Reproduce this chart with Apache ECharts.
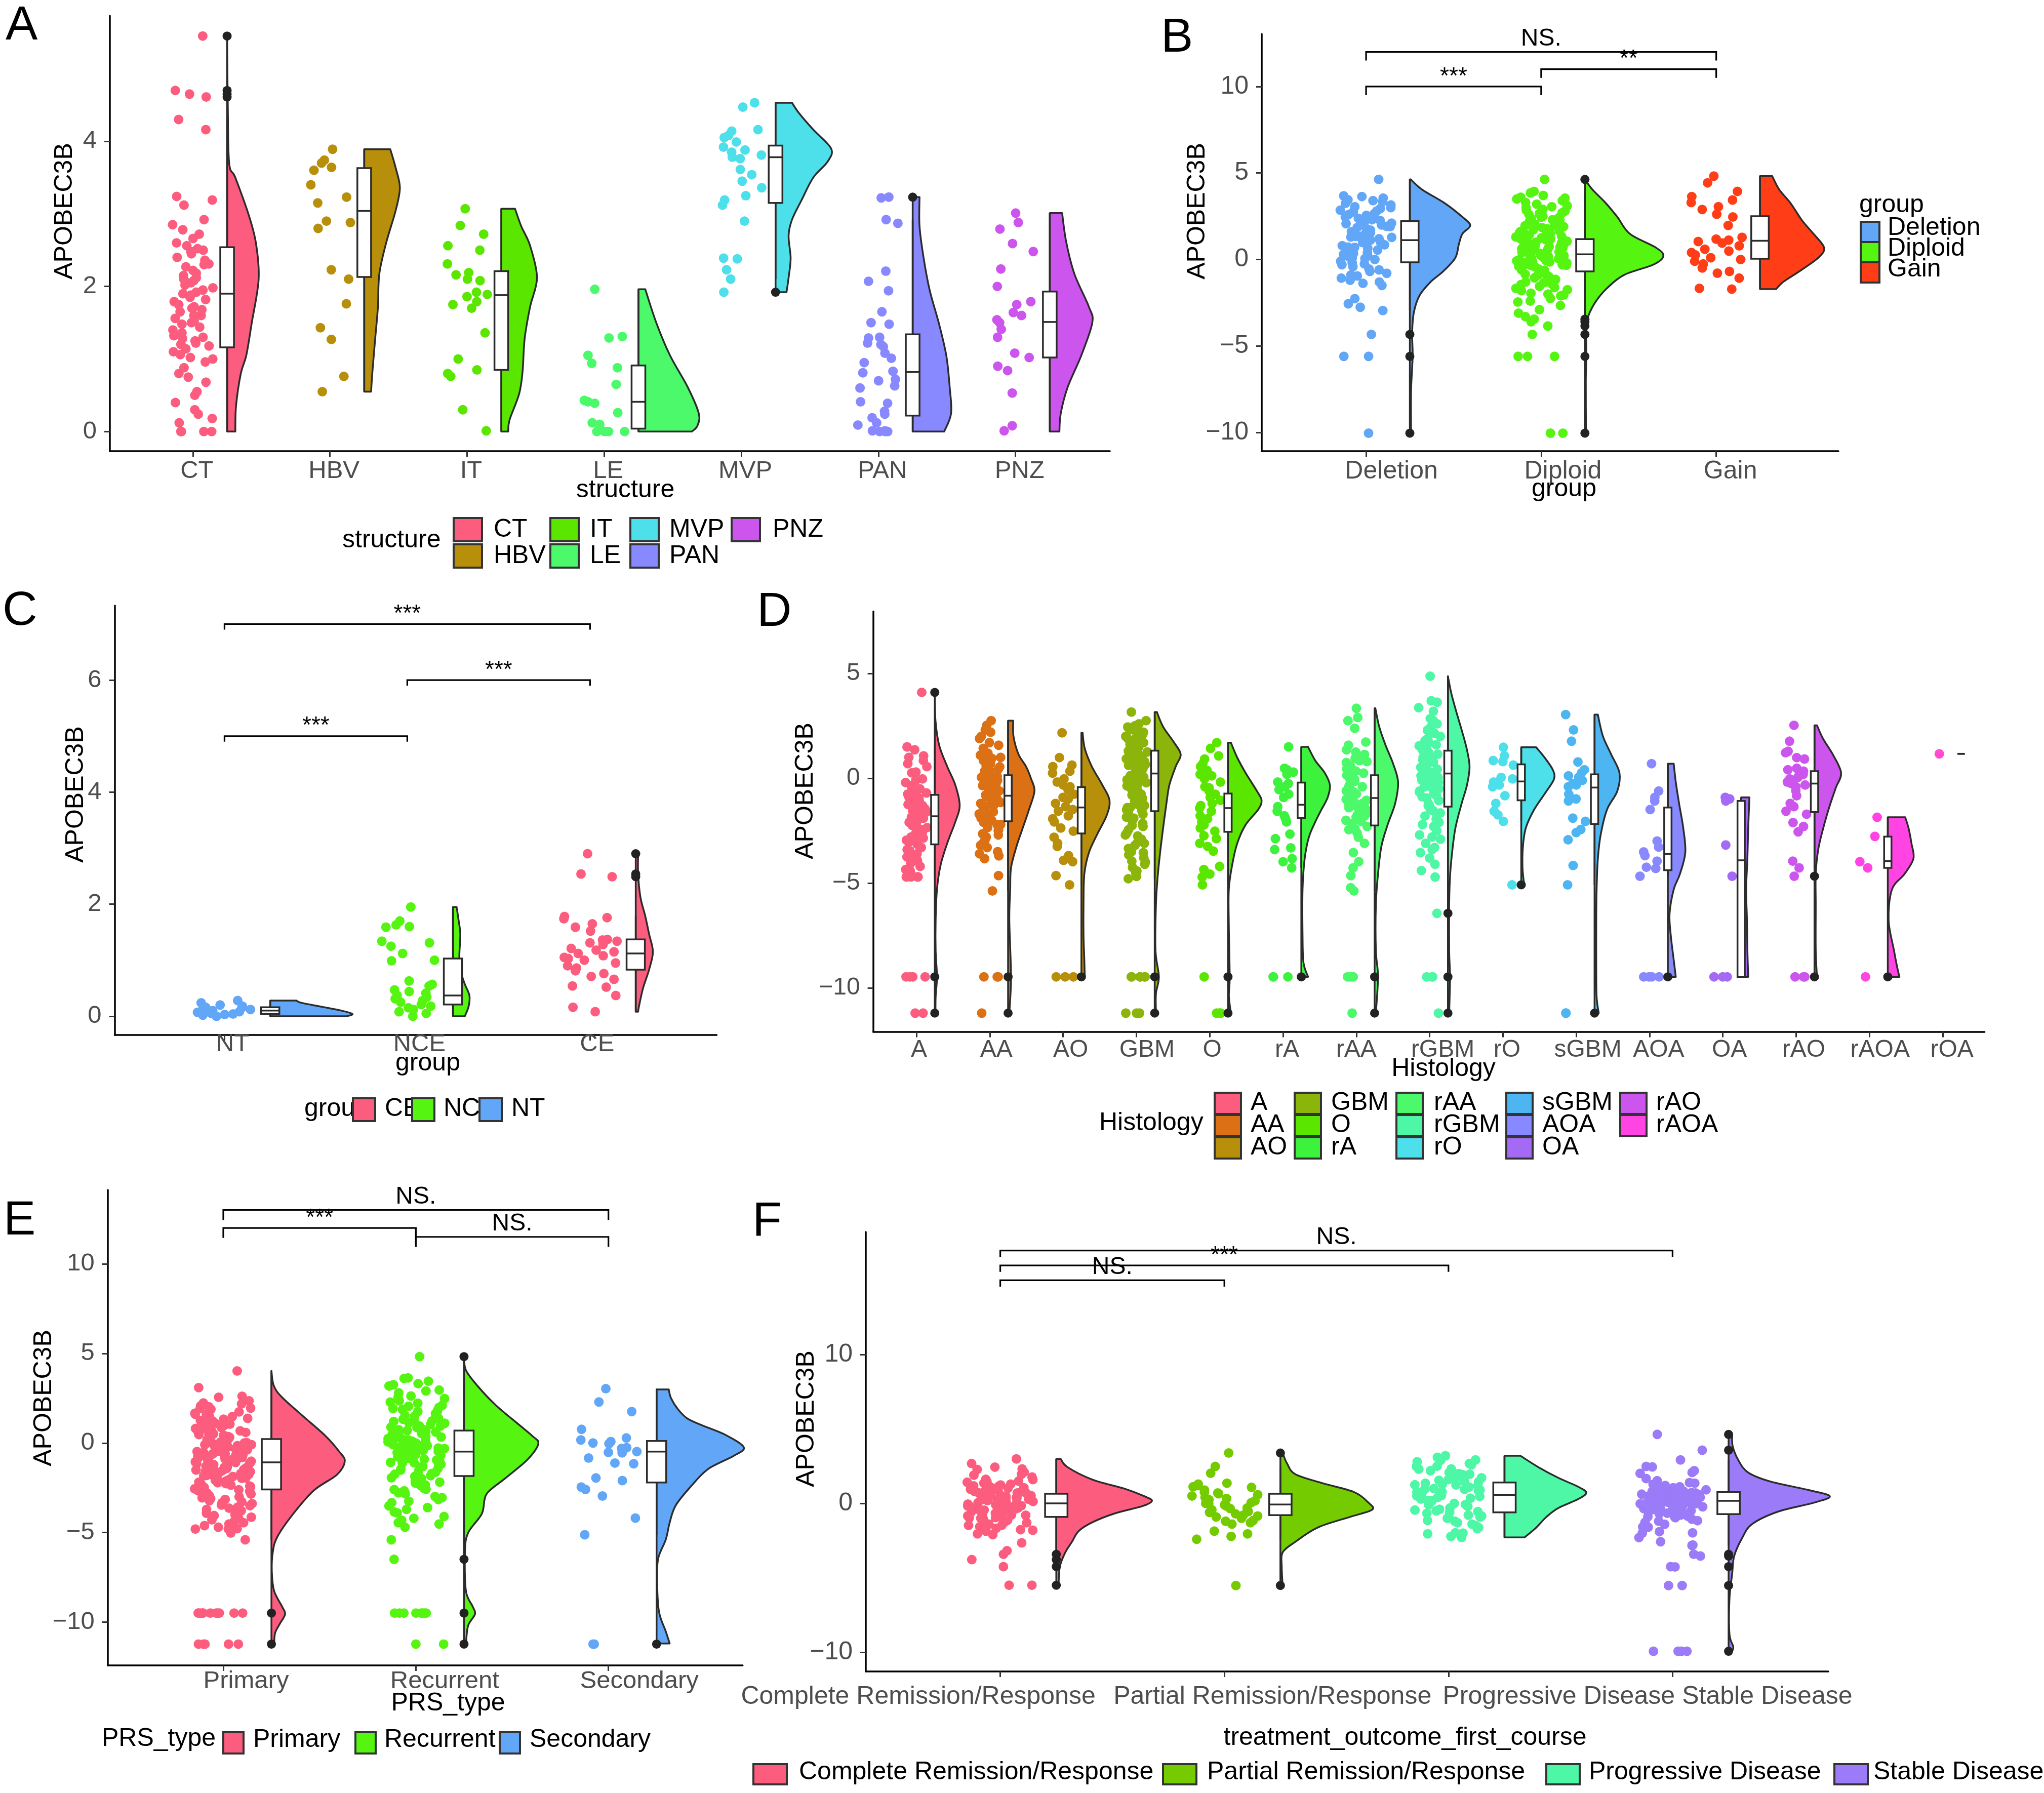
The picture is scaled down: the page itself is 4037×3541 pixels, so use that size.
<!DOCTYPE html>
<html><head><meta charset="utf-8">
<script src="https://cdn.jsdelivr.net/npm/echarts@6/dist/echarts.min.js"></script>
<style>html,body{margin:0;padding:0;background:#fff}#c{width:4037px;height:3541px}</style>
</head><body><div id="c"></div>
<script>
// ================= DATA =================
// ---- Panel A ----
const A_categories = ['CT','HBV','IT','LE','MVP','PAN','PNZ'];
const A_yticks = [0,2,4];
const A_points = [
  [5.45,4.70,4.65,4.61,4.30,4.16,3.24,3.19,3.12,2.92,2.85,2.78,2.72,2.66,2.60,2.56,2.52,2.48,2.45,2.40,2.36,2.31,2.27,2.22,2.18,2.15,2.12,2.08,2.05,2.02,1.98,1.95,1.92,1.88,1.85,1.82,1.79,1.75,1.72,1.68,1.65,1.60,1.56,1.52,1.48,1.44,1.40,1.36,1.32,1.28,1.25,1.22,1.18,1.14,1.10,1.06,1.02,0.96,0.88,0.80,0.75,0.68,0.55,0.50,0.40,0.30,0.24,0.18,0.12,0,0,0,0,2.3,2.1,1.9,1.7,1.5,1.3,1.2,2.5,1.6,1.0],
  [3.89,3.74,3.70,3.64,3.60,3.40,3.23,3.15,2.90,2.88,2.80,2.23,2.10,1.76,1.43,1.27,0.76,0.55],
  [3.07,2.84,2.72,2.56,2.50,2.31,2.19,2.16,2.10,2.08,1.92,1.89,1.86,1.79,1.75,1.70,1.36,1.00,0.85,0.80,0.76,0.30,0.01],
  [1.96,1.31,1.29,1.05,0.94,0.88,0.65,0.43,0.41,0.39,0.26,0.12,0.10,0,0,0,0],
  [4.53,4.47,4.16,4.14,4.08,4.05,3.99,3.92,3.88,3.85,3.81,3.78,3.76,3.61,3.54,3.45,3.36,3.25,3.19,3.12,2.90,2.39,2.38,2.23,2.10,1.92],
  [3.23,3.22,2.92,2.87,2.21,2.07,1.94,1.65,1.50,1.48,1.30,1.29,1.22,1.20,1.17,1.08,1.01,0.95,0.83,0.81,0.72,0.70,0.63,0.60,0.41,0.39,0.28,0.24,0.19,0.12,0.09,0.01,0.01,0,0,0],
  [3.01,2.88,2.79,2.59,2.48,2.24,2.00,1.79,1.75,1.64,1.60,1.54,1.50,1.41,1.30,1.08,1.02,0.90,0.84,0.53,0.08,0.01]
];
const A_boxes = [[0,1.16,1.90,2.54,4.30],[0.55,2.13,3.04,3.63,3.89],[0,0.85,1.88,2.21,3.07],[0,0.04,0.41,0.91,1.96],[2.10,3.15,3.78,3.94,4.53],[0,0.22,0.82,1.34,2.92],[0,1.02,1.51,1.93,3.01]];
const A_outliers = [[4.61,4.65,4.70,5.45],[],[],[],[1.92],[3.23],[]];
const A_violins = [
  [[0,0.06],[0.35,0.065],[0.8,0.1],[1.05,0.14],[1.5,0.18],[2.1,0.23],[2.6,0.21],[3.0,0.155],[3.5,0.06],[3.7,0.015],[4.5,0.005],[5.45,0]],
  [[0.55,0.05],[0.83,0.06],[1.28,0.08],[1.72,0.1],[2.17,0.11],[2.6,0.16],[3.05,0.23],[3.36,0.26],[3.63,0.23],[3.89,0.19]],
  [[0,0.05],[0.16,0.06],[0.52,0.13],[0.83,0.155],[1.28,0.17],[1.72,0.21],[2.12,0.26],[2.56,0.21],[2.83,0.145],[3.07,0.1]],
  [[0,0.39],[0.08,0.43],[0.25,0.44],[0.61,0.36],[1.05,0.23],[1.5,0.13],[1.96,0.05]],
  [[1.92,0.08],[2.12,0.095],[2.39,0.11],[2.7,0.095],[2.92,0.12],[3.19,0.19],[3.5,0.275],[3.72,0.38],[3.9,0.405],[4.16,0.275],[4.39,0.17],[4.53,0.12]],
  [[0,0.23],[0.25,0.28],[0.61,0.27],[1.05,0.245],[1.5,0.19],[1.94,0.125],[2.39,0.08],[2.83,0.05],[3.23,0.05]],
  [[0,0.07],[0.25,0.08],[0.61,0.13],[1.05,0.23],[1.5,0.31],[1.72,0.285],[2.17,0.18],[2.61,0.12],[3.01,0.09]]
];
const A_brackets = [];

// ---- Panel B ----
const B_categories = ['Deletion','Diploid','Gain'];
const B_yticks = [-10,-5,0,5,10];
const B_points = [
  [4.63,3.68,3.64,3.55,3.45,3.35,3.25,3.15,3.05,2.95,2.85,2.75,2.65,2.55,2.46,2.38,2.30,2.22,2.15,2.07,2.0,1.92,1.85,1.78,1.70,1.62,1.55,1.48,1.40,1.33,1.28,1.20,1.12,1.05,0.98,0.89,0.80,0.72,0.65,0.55,0.49,0.40,0.30,0.20,0.10,0.0,-0.10,-0.20,-0.30,-0.42,-0.55,-0.69,-0.80,-0.95,-1.08,-1.2,-1.38,-1.5,-2.26,-2.56,-2.76,-2.95,-4.33,-5.6,-5.6,-10.04,3.4,3.0,2.6,2.25,1.9,1.6,1.3,1.0,0.7,0.35,0.05,-0.25,-0.6,-0.9,-1.3,2.8,2.1,1.45,0.85,0.15],
  [4.63,3.94,3.85,3.70,3.60,3.50,3.40,3.30,3.20,3.10,3.00,2.90,2.80,2.70,2.60,2.50,2.42,2.35,2.28,2.20,2.12,2.05,1.98,1.90,1.84,1.78,1.72,1.66,1.60,1.55,1.50,1.45,1.40,1.35,1.30,1.25,1.20,1.15,1.10,1.05,1.00,0.96,0.92,0.88,0.84,0.80,0.76,0.72,0.68,0.64,0.60,0.56,0.52,0.48,0.44,0.40,0.36,0.32,0.28,0.24,0.20,0.16,0.12,0.08,0.04,0.0,-0.04,-0.08,-0.12,-0.16,-0.20,-0.25,-0.30,-0.35,-0.40,-0.45,-0.50,-0.56,-0.62,-0.69,-0.75,-0.82,-0.90,-0.98,-1.06,-1.15,-1.25,-1.35,-1.45,-1.55,-1.67,-1.80,-1.95,-2.10,-2.25,-2.46,-2.66,-2.9,-3.1,-3.3,-3.45,-3.6,-3.84,-4.33,-5.6,-5.6,-5.6,-10.04,-10.04,3.55,3.05,2.65,2.3,1.95,1.62,1.33,1.08,0.9,0.74,0.58,0.46,0.34,0.22,0.1,-0.02,-0.14,-0.27,-0.42,-0.6,-0.85,-1.1,-1.4,-1.75,-2.05,-2.4,2.85,2.45,1.7,1.18,0.62,0.26,-0.06,-0.33,-0.66,-1.0,-1.3,-1.62,-2.0,0.5],
  [4.82,4.43,3.94,3.64,3.44,3.29,3.05,2.89,2.62,2.46,1.97,1.28,1.18,1.12,1.04,0.95,0.79,0.59,0.49,0.40,0.26,0.10,0.0,-0.10,-0.26,-0.49,-0.69,-0.79,-1.08,-1.67,-1.71]
];
const B_boxes = [[-2.95,-0.16,1.12,2.22,4.63],[-3.3,-0.69,0.30,1.18,3.94],[-1.71,0.04,1.08,2.50,4.82]];
const B_outliers = [[-4.33,-5.6,-10.04],[4.63,-3.45,-3.6,-3.84,-4.33,-5.6,-10.04],[]];
const B_violins = [
  [[-10.04,0.007],[-7.58,0.007],[-5.6,0.016],[-4.23,0.013],[-3.05,0.023],[-2.07,0.056],[-1.28,0.12],[-0.69,0.19],[0.1,0.26],[0.89,0.28],[1.48,0.3],[1.97,0.345],[2.46,0.3],[3.25,0.2],[4.04,0.07],[4.63,0.005]],
  [[-10.04,0.006],[-7,0.005],[-5.6,0.008],[-3.84,0.008],[-3.25,0.02],[-2.46,0.06],[-1.67,0.125],[-0.89,0.224],[-0.3,0.39],[0.2,0.448],[0.69,0.405],[1.48,0.257],[2.46,0.185],[3.25,0.12],[4.04,0.043],[4.63,0.0]],
  [[-1.71,0.092],[-1.28,0.135],[-0.69,0.224],[0.1,0.333],[0.69,0.366],[1.48,0.306],[2.26,0.24],[3.25,0.175],[4.04,0.11],[4.82,0.07]]
];
const B_brackets = [[1,3,12,'NS.'],[1,2,10,'***'],[2,3,11,'**']];

// ---- Panel C ----
const C_categories = ['NT','NCE','CE'];
const C_yticks = [0,2,4,6];
const C_points = [
  [0.28,0.24,0.20,0.18,0.16,0.15,0.13,0.12,0.10,0.08,0.07,0.05,0.04,0.03,0.02,0.0],
  [1.95,1.70,1.63,1.60,1.59,1.34,1.31,1.25,1.12,1.00,0.99,0.63,0.57,0.54,0.47,0.44,0.41,0.37,0.34,0.31,0.28,0.25,0.21,0.18,0.15,0.12,0.08,0.05,0.0],
  [2.90,2.54,2.49,1.78,1.76,1.74,1.65,1.59,1.52,1.37,1.36,1.34,1.31,1.28,1.21,1.18,1.15,1.12,1.08,1.05,1.03,1.0,0.95,0.90,0.86,0.81,0.76,0.71,0.66,0.54,0.52,0.37,0.16,0.08]
];
const C_boxes = [[0,0.04,0.10,0.16,0.28],[0,0.21,0.37,1.03,1.95],[0.08,0.83,1.12,1.37,1.78]];
const C_outliers = [[],[],[2.49,2.54,2.90]];
const C_violins = [
  [[0,0.42],[0.04,0.45],[0.1,0.39],[0.17,0.28],[0.24,0.17],[0.28,0.144]],
  [[0,0.065],[0.18,0.086],[0.37,0.09],[0.57,0.065],[0.83,0.04],[1.08,0.035],[1.47,0.04],[1.73,0.03],[1.95,0.02]],
  [[0.08,0.013],[0.18,0.018],[0.5,0.04],[0.83,0.073],[1.15,0.094],[1.47,0.073],[1.79,0.052],[2.12,0.026],[2.54,0.013],[2.90,0.013]]
];
const C_brackets = [[1,3,7,'***'],[2,3,6,'***'],[1,2,5,'***']];

// ---- Panel D ----
const D_categories = ['A','AA','AO','GBM','O','rA','rAA','rGBM','rO','sGBM','AOA','OA','rAO','rAOA','rOA'];
const D_yticks = [-10,-5,0,5];
const D_points = [
  [4.1,1.5,1.36,1.07,1.0,0.85,0.7,0.56,0.26,-0.03,-0.2,-0.35,-0.5,-0.62,-0.75,-0.85,-0.95,-1.05,-1.15,-1.25,-1.35,-1.45,-1.55,-1.65,-1.75,-1.85,-1.95,-2.05,-2.15,-2.25,-2.35,-2.45,-2.55,-2.65,-2.75,-2.85,-2.95,-3.05,-3.15,-3.3,-3.45,-3.6,-3.75,-3.9,-4.05,-4.2,-4.35,-4.5,-4.7,-4.7,-4.7,-4.7,-9.47,-9.47,-9.47,-9.47,-11.2,-11.2,-0.4,-0.9,-1.4,-1.9,-2.4,-2.9,-3.4,-3.95,-1.1,-1.6,-2.1,-2.6,-0.7,-3.7,-4.4,-1.3,-2.0,-2.8,0.3,-0.1],
  [2.75,2.53,2.31,2.2,2.0,1.9,1.58,1.43,1.2,1.0,0.85,0.7,0.55,0.45,0.35,0.2,0.1,0.0,-0.1,-0.2,-0.3,-0.4,-0.5,-0.6,-0.7,-0.8,-0.9,-1.0,-1.1,-1.2,-1.3,-1.4,-1.5,-1.6,-1.7,-1.8,-1.9,-2.0,-2.1,-2.2,-2.35,-2.5,-2.65,-2.8,-2.95,-3.1,-3.3,-3.5,-3.7,-3.83,-4.64,-5.37,-9.47,-9.47,-9.47,-11.2,1.7,0.95,0.4,-0.15,-0.55,-0.95,-1.35,-1.75,-2.2,-2.7,-3.2,-3.6,0.6,-0.35,-1.15,-1.55,-2.45,-0.8,1.1,0.05],
  [2.17,0.99,0.63,0.56,0.34,0.25,-0.03,-0.18,-0.32,-0.4,-0.54,-0.76,-0.91,-0.98,-1.2,-1.35,-1.49,-1.56,-1.79,-1.93,-2.08,-2.37,-2.52,-2.81,-3.1,-3.25,-3.69,-3.91,-3.98,-4.64,-5.08,-9.47,-9.47,-9.47],
  [3.16,2.75,2.6,2.45,2.31,2.2,2.1,2.0,1.9,1.8,1.7,1.62,1.55,1.48,1.4,1.33,1.26,1.2,1.13,1.06,1.0,0.93,0.86,0.8,0.73,0.66,0.6,0.53,0.46,0.4,0.33,0.26,0.2,0.13,0.06,0.0,-0.07,-0.14,-0.21,-0.28,-0.36,-0.44,-0.52,-0.6,-0.7,-0.8,-0.9,-1.0,-1.1,-1.2,-1.3,-1.4,-1.5,-1.6,-1.72,-1.85,-2.0,-2.15,-2.3,-2.45,-2.6,-2.75,-2.9,-3.05,-3.2,-3.35,-3.5,-3.65,-3.8,-3.95,-4.1,-4.25,-4.42,-4.68,-4.79,-9.47,-9.47,-9.47,-9.47,-9.47,-9.47,-11.2,-11.2,-11.2,2.5,2.05,1.65,1.3,0.95,0.62,0.3,-0.03,-0.33,-0.65,-0.95,-1.25,-1.55,-1.9,-2.25,-2.7,-3.1,-3.55,-4.0,-4.5,1.85,1.1,0.45,-0.15,-0.75,-1.4,2.25,0.8,-0.5,-1.1],
  [1.7,1.43,1.07,0.92,0.7,0.56,0.38,0.19,0.12,-0.03,-0.18,-0.4,-0.45,-0.61,-0.76,-0.91,-1.05,-1.2,-1.3,-1.42,-1.57,-1.79,-1.93,-2.08,-2.22,-2.37,-2.52,-2.74,-2.88,-3.1,-3.25,-3.47,-4.2,-4.35,-4.57,-4.71,-5.08,-9.47,-11.2,-11.2,-11.2],
  [1.5,0.48,0.41,0.3,0.19,-0.18,-0.25,-0.4,-0.54,-0.76,-0.91,-1.35,-1.57,-1.79,-1.93,-2.08,-2.66,-2.88,-3.32,-3.4,-3.83,-3.98,-4.27,-9.47,-9.47,-9.47],
  [3.34,2.9,2.75,2.39,1.73,1.58,1.36,1.14,1.05,0.95,0.85,0.75,0.65,0.55,0.45,0.35,0.25,0.15,0.05,-0.05,-0.15,-0.25,-0.35,-0.45,-0.55,-0.65,-0.75,-0.85,-0.95,-1.05,-1.15,-1.25,-1.35,-1.45,-1.55,-1.65,-1.75,-1.85,-1.95,-2.05,-2.15,-2.3,-2.45,-2.6,-2.81,-3.1,-3.54,-3.98,-4.27,-4.64,-5.22,-5.37,-9.47,-9.47,-9.47,-11.2,1.25,0.8,0.4,0.0,-0.4,-0.8,-1.2,-1.6,-2.0,-2.4,-0.6,-1.4,0.6,-1.0,-1.8],
  [4.87,3.7,3.63,3.37,3.2,2.75,2.6,2.45,2.3,2.15,2.0,1.88,1.76,1.65,1.55,1.45,1.35,1.25,1.15,1.05,0.95,0.86,0.77,0.68,0.6,0.52,0.44,0.36,0.28,0.2,0.12,0.04,-0.04,-0.12,-0.2,-0.3,-0.4,-0.5,-0.6,-0.7,-0.82,-0.94,-1.06,-1.2,-1.35,-1.5,-1.65,-1.8,-1.95,-2.1,-2.3,-2.5,-2.7,-2.9,-3.1,-3.3,-3.55,-3.8,-4.1,-4.4,-4.71,-6.44,-9.47,-9.47,-9.47,-11.2,2.85,2.25,1.8,1.4,1.0,0.64,0.3,-0.08,-0.45,-0.88,-1.3,-1.75,-2.2,-2.8,-3.4,1.6,0.9,0.1,-0.65,-1.55],
  [1.48,1.07,0.85,0.8,0.63,0.04,-0.03,-0.18,-0.32,-0.4,-0.83,-1.2,-1.57,-1.74,-2.05,-5.08],
  [3.04,2.31,1.77,0.78,0.41,0.26,0.12,0.05,-0.1,-0.25,-0.32,-0.4,-0.76,-0.98,-1.08,-1.9,-2.05,-2.44,-2.59,-2.93,-4.16,-5.08,-11.2,-11.2],
  [0.7,-0.61,-0.91,-1.08,-1.49,-2.99,-3.28,-3.51,-3.69,-3.95,-4.24,-4.3,-4.67,-9.47,-9.47,-9.47,-9.47],
  [-0.91,-0.98,-1.08,-3.18,-4.67,-9.47,-9.47,-9.47],
  [2.53,1.77,1.29,1.22,0.99,0.92,0.48,0.41,0.34,0.19,0.12,0.04,-0.03,-0.18,-0.25,-0.32,-0.4,-0.59,-0.83,-1.2,-1.35,-1.57,-1.71,-2.11,-2.3,-2.55,-3.95,-4.27,-4.67,-9.47,-9.47,-9.47],
  [-1.86,-2.77,-3.98,-4.27,-9.47],
  [1.17]
];
const D_boxes = [[-4.7,-3.15,-1.81,-0.79,1.5],[-5.37,-2.05,-0.83,0.15,2.75],[-5.08,-2.63,-1.39,-0.42,2.17],[-4.79,-1.57,0.23,1.32,3.16],[-5.08,-2.55,-1.42,-0.73,1.7],[-4.27,-1.9,-1.26,-0.2,1.5],[-5.37,-2.25,-0.94,0.15,3.34],[-4.71,-1.35,0.23,1.32,4.87],[-2.05,-1.05,-0.15,0.67,1.48],[-5.08,-2.18,-0.44,0.19,3.04],[-4.67,-4.38,-3.61,-1.39,0.7],[-9.47,-9.47,-3.91,-1.08,-0.91],[-4.27,-1.61,-0.25,0.34,2.53],[-4.27,-4.27,-3.95,-2.78,-1.86],[1.17,1.17,1.17,1.17,1.17]];
const D_outliers = [[4.1,-9.47,-11.2],[-9.47,-11.2],[-9.47],[-9.47,-11.2],[-9.47,-11.2],[-9.47],[-9.47,-11.2],[-6.44,-9.47,-11.2],[-5.08],[-11.2],[-9.47],[],[-4.67,-9.47],[-9.47],[]];
const D_violins = [
  [[-11.2,0.01],[-10.42,0.012],[-9.47,0.03],[-8.22,0.012],[-6.76,0.012],[-5.3,0.03],[-4.13,0.08],[-3.1,0.17],[-2.08,0.28],[-1.3,0.34],[-0.32,0.28],[0.56,0.17],[1.58,0.06],[2.75,0.01],[4.1,0]],
  [[-11.2,0.017],[-9.47,0.04],[-6.76,0.017],[-5.3,0.029],[-4.27,0.04],[-3.25,0.115],[-2.37,0.2],[-1.49,0.286],[-0.61,0.36],[-0.03,0.315],[0.56,0.246],[1.14,0.143],[2.0,0.074],[2.75,0.07]],
  [[-9.47,0.046],[-8.66,0.04],[-7.5,0.029],[-6.0,0.029],[-4.57,0.04],[-3.54,0.103],[-2.66,0.217],[-1.79,0.343],[-1.05,0.384],[-0.32,0.286],[0.56,0.143],[1.43,0.046],[2.17,0.017]],
  [[-11.2,0.017],[-10.27,0.017],[-9.47,0.057],[-8.22,0.011],[-6.03,0.017],[-4.71,0.04],[-3.54,0.074],[-2.37,0.115],[-1.2,0.16],[-0.32,0.2],[0.56,0.286],[1.14,0.355],[1.73,0.26],[2.46,0.115],[3.16,0.03]],
  [[-11.2,0.04],[-10.4,0.012],[-9.47,0.023],[-7,0.011],[-5.3,0.011],[-4.13,0.057],[-3.1,0.126],[-2.22,0.24],[-1.49,0.412],[-1.05,0.458],[-0.61,0.395],[0.26,0.24],[0.99,0.126],[1.7,0.04]],
  [[-9.47,0.092],[-8.8,0.03],[-7.5,0.017],[-5.3,0.017],[-3.83,0.046],[-2.81,0.103],[-2.08,0.19],[-1.49,0.275],[-0.91,0.36],[-0.32,0.39],[0.26,0.32],[0.85,0.19],[1.5,0.092]],
  [[-11.2,0.017],[-9.47,0.046],[-8.22,0.017],[-6.03,0.017],[-4.57,0.046],[-3.25,0.092],[-2.22,0.177],[-1.2,0.28],[-0.18,0.32],[0.7,0.252],[1.58,0.149],[2.46,0.063],[3.34,0.01]],
  [[-11.2,0.017],[-9.47,0.028],[-8.22,0.017],[-6.03,0.017],[-4.71,0.028],[-3.54,0.057],[-2.37,0.102],[-1.2,0.187],[-0.32,0.26],[0.56,0.295],[1.43,0.255],[2.31,0.187],[3.19,0.113],[4.07,0.045],[4.87,0]],
  [[-5.08,0.04],[-4.27,0.017],[-3.25,0.023],[-2.37,0.062],[-1.49,0.176],[-0.61,0.345],[-0.03,0.448],[0.41,0.43],[1.0,0.317],[1.48,0.204]],
  [[-11.2,0.057],[-10.42,0.028],[-8.96,0.023],[-6.76,0.023],[-5.3,0.028],[-3.83,0.045],[-2.66,0.085],[-1.49,0.17],[-0.61,0.31],[0.26,0.34],[1.14,0.227],[2.02,0.113],[3.04,0.045]],
  [[-9.47,0.108],[-8.66,0.08],[-7.5,0.04],[-6.47,0.023],[-5.3,0.08],[-4.57,0.164],[-3.54,0.238],[-2.37,0.21],[-1.2,0.153],[-0.18,0.108],[0.7,0.08]],
  [[-9.47,0.096],[-8.22,0.085],[-6.76,0.079],[-5.3,0.068],[-3.83,0.085],[-2.37,0.096],[-0.91,0.113]],
  [[-9.47,0.034],[-8.22,0.017],[-6.03,0.017],[-4.57,0.017],[-3.4,0.051],[-2.37,0.12],[-1.35,0.204],[-0.47,0.289],[0.26,0.363],[1.14,0.25],[1.87,0.12],[2.53,0.034]],
  [[-9.47,0.159],[-8.96,0.125],[-8.22,0.085],[-6.76,0.011],[-5.3,0.057],[-4.57,0.227],[-3.83,0.35],[-3.1,0.323],[-2.37,0.283],[-1.86,0.238]],
  []
];
const D_brackets = [];

// ---- Panel E ----
const E_categories = ['Primary','Recurrent','Secondary'];
const E_yticks = [-10,-5,0,5,10];
const E_points = [
  [4.02,3.09,2.55,2.61,2.23,2.18,2.07,1.95,1.88,1.74,1.66,1.52,1.47,1.33,1.26,1.12,1.05,0.94,0.87,0.76,0.68,0.59,0.51,0.43,0.36,0.28,0.21,0.13,0.06,-0.02,-0.09,-0.15,-0.22,-0.29,-0.35,-0.41,-0.48,-0.53,-0.6,-0.66,-0.71,-0.77,-0.83,-0.88,-0.94,-0.99,-1.05,-1.11,-1.16,-1.22,-1.28,-1.33,-1.39,-1.45,-1.51,-1.57,-1.63,-1.7,-1.76,-1.83,-1.9,-1.97,-2.04,-2.12,-2.19,-2.27,-2.35,-2.44,-2.52,-2.61,-2.7,-2.8,-2.9,-3.0,-3.11,-3.22,-3.34,-3.46,-3.58,-3.71,-3.85,-3.99,-4.14,-4.29,-4.45,-4.61,-4.78,-4.8,-4.8,-5.02,-5.4,0.32,-0.57,-1.02,-1.48,-0.25,0.81,-2.15,-1.68,-0.74,1.38,-3.06,-0.46,-1.21,0.02,-2.56,1.92,-0.9,-1.6,0.5,-2.4,-1.3,-0.1,-3.5,1.6,-4.2,2.35,1.58,0.98,0.47,-0.06,-0.38,-0.62,-0.81,-1.09,-1.36,-1.59,-1.87,-2.08,-2.31,-2.66,-2.95,-3.28,-3.64,-3.92,-4.36,-4.7,1.15,0.64,0.18,-0.18,-0.52,-0.97,-1.42,-1.81,-2.22,-2.75,-3.15,-3.78,-4.52,2.02,1.24,0.72,-0.33,-0.69,-1.14,-1.53,-1.95,-2.48,-3.38,-4.05,-4.68,0.9,0.0,-1.75,-2.85,-9.49,-9.49,-9.49,-9.49,-9.49,-9.49,-9.49,-9.49,-9.49,-9.49,-9.49,-11.22,-11.22,-11.22,-11.22,-11.22],
  [4.82,3.63,3.6,3.31,3.25,3.18,2.95,2.8,2.62,2.48,2.35,2.22,2.1,1.98,1.86,1.75,1.64,1.53,1.43,1.33,1.23,1.13,1.04,0.95,0.86,0.78,0.69,0.61,0.53,0.45,0.37,0.29,0.21,0.14,0.06,-0.01,-0.09,-0.16,-0.24,-0.31,-0.39,-0.46,-0.54,-0.62,-0.7,-0.78,-0.86,-0.95,-1.04,-1.13,-1.22,-1.32,-1.42,-1.52,-1.63,-1.74,-1.86,-1.98,-2.11,-2.24,-2.38,-2.52,-2.67,-2.83,-2.99,-3.16,-3.33,-3.51,-3.7,-3.9,-4.1,-4.31,-4.52,-4.7,-5.4,-6.49,0.4,-0.2,0.95,-0.65,1.5,-1.35,0.1,-0.9,2.05,-1.7,0.65,-0.35,1.2,-1.1,0.25,-2.6,-0.5,1.8,2.9,2.28,1.7,1.26,0.88,0.55,0.18,-0.12,-0.42,-0.74,-1.08,-1.46,-1.82,-2.18,-2.58,-3.05,-3.6,-4.2,3.45,2.55,1.92,1.38,0.74,0.33,-0.05,-0.28,-0.58,-0.82,-1.18,-1.56,-1.94,-2.34,-2.78,-3.25,-3.85,-4.45,0.5,-0.15,1.1,-0.7,-9.49,-9.49,-9.49,-9.49,-9.49,-9.49,-9.49,-9.49,-11.22,-11.22],
  [3.03,2.29,1.75,0.76,0.28,0.17,0.08,0.0,-0.04,-0.26,-0.3,-0.48,-0.52,-0.55,-0.84,-1.12,-1.16,-1.95,-2.1,-2.46,-2.59,-2.96,-4.19,-5.12,-11.22,-11.22]
];
const E_boxes = [[-5.4,-2.59,-1.08,0.22,4.02],[-5.4,-1.84,-0.48,0.69,3.63],[-5.12,-2.2,-0.48,0.11,3.03]];
const E_outliers = [[-9.49,-11.22],[4.82,-6.49,-9.49,-11.22],[-11.22]];
const E_violins = [
  [[-11.22,0.014],[-10.6,0.019],[-10.1,0.043],[-9.55,0.071],[-9.12,0.055],[-8.26,0.014],[-7.18,0.002],[-6.1,0.007],[-5.23,0.031],[-3.94,0.114],[-2.64,0.221],[-1.77,0.34],[-1.02,0.381],[-0.48,0.352],[0.39,0.281],[1.47,0.167],[2.55,0.055],[3.2,0.012],[4.02,0]],
  [[-11.22,0.01],[-10.2,0.021],[-9.55,0.057],[-9.12,0.045],[-8.26,0.01],[-6.1,0.005],[-5.02,0.021],[-3.94,0.093],[-2.85,0.117],[-1.99,0.212],[-0.91,0.331],[-0.04,0.386],[0.39,0.355],[1.04,0.283],[2.12,0.164],[3.2,0.069],[4.06,0.01],[4.82,0]],
  [[-11.19,0.068],[-10.52,0.048],[-9.44,0.013],[-7.81,0.003],[-6.46,0.008],[-5.38,0.048],[-4.44,0.068],[-3.49,0.099],[-2.41,0.179],[-1.45,0.268],[-0.72,0.4],[-0.24,0.453],[0.44,0.36],[0.97,0.24],[1.37,0.159],[1.91,0.109],[2.5,0.075],[2.99,0.063]]
];
const E_brackets = [[1,3,13,'NS.'],[1,2,12,'***'],[2,3,11.5,'NS.']];

// ---- Panel F ----
const F_categories = ['Complete Remission/Response','Partial Remission/Response','Progressive Disease','Stable Disease'];
const F_yticks = [-10,0,10];
const F_points = [
  [2.99,2.68,2.44,2.32,2.28,1.96,1.9,1.77,1.62,1.5,1.42,1.36,1.3,1.24,1.18,1.1,1.02,0.95,0.88,0.8,0.74,0.68,0.6,0.55,0.48,0.42,0.36,0.3,0.25,0.19,0.13,0.08,0.02,-0.04,-0.1,-0.15,-0.21,-0.27,-0.33,-0.39,-0.45,-0.51,-0.57,-0.63,-0.7,-0.77,-0.84,-0.91,-0.98,-1.06,-1.14,-1.22,-1.3,-1.39,-1.48,-1.57,-1.67,-1.77,-1.86,-2.05,-2.1,-2.65,-3.18,-3.42,-3.78,-4.25,-5.5,-5.5,0.05,-0.3,0.52,-0.6,0.22,-0.12,0.9,-0.45,1.15,-0.85,0.35,-1.0,0.7,-0.2,1.6,1.45,1.05,0.72,0.4,0.12,-0.18,-0.48,-0.8,-1.12,-1.45,-1.8,2.1,0.58,-0.05,-0.66,-1.26,0.95,0.28,-0.36,-0.95],
  [3.39,2.49,2.03,1.36,1.3,1.12,1.08,0.76,0.65,0.58,0.41,0.33,0.17,0.05,-0.02,-0.19,-0.31,-0.43,-0.55,-0.6,-0.79,-0.91,-1.0,-1.15,-1.2,-1.39,-1.86,-2.05,-2.22,-2.41,-5.52,0.9,0.25,-0.7,0.5,-0.1,1.2,-0.35,0.0,-0.85,0.7,-1.3],
  [3.2,3.1,2.92,2.8,2.68,2.49,2.32,2.2,2.08,1.96,1.9,1.72,1.6,1.48,1.36,1.24,1.2,1.0,0.95,0.76,0.65,0.53,0.48,0.29,0.17,0.1,-0.07,-0.31,-0.55,-0.67,-0.79,-0.91,-1.15,-1.2,-1.39,-1.62,-1.7,-1.98,-2.05,-2.22,-2.29,1.55,0.85,0.4,-0.2,1.1,2.5,-0.45,0.6,1.8,-1.0,0.2,1.3,2.0,-0.6,0.9,2.9,2.3,1.75,1.25,0.78,0.35,-0.1,-0.5,-0.95,-1.5,-2.0,2.6,1.95,1.45,0.95,0.5,0.0,-0.4,-0.85,-1.3],
  [4.64,3.58,2.92,2.49,2.45,2.2,2.08,2.02,1.67,1.53,1.36,1.28,1.2,1.12,1.05,0.98,0.91,0.85,0.79,0.73,0.67,0.62,0.56,0.51,0.46,0.41,0.36,0.31,0.26,0.21,0.17,0.12,0.08,0.03,-0.02,-0.07,-0.12,-0.17,-0.23,-0.29,-0.35,-0.41,-0.48,-0.55,-0.62,-0.7,-0.78,-0.87,-0.96,-1.06,-1.16,-1.27,-1.58,-1.6,-1.98,-2.0,-2.58,-2.82,-2.8,0.4,-0.05,0.6,0.15,-0.3,0.95,-0.6,0.3,-0.15,0.7,0.0,0.5,-0.4,1.0,0.2,-0.9,0.35,1.1,0.82,0.58,0.38,0.18,-0.02,-0.22,-0.44,-0.66,-0.9,-1.2,0.48,0.1,-0.32,-0.75,0.66,0.25,-0.1,-0.5,0.88,1.4,-1.4,-1.9,-2.3,0.05,-3.42,-3.54,-4.25,-4.27,-5.52,-5.52,-9.94,-9.94,-9.94,-9.94]
];
const F_boxes = [[-3.18,-0.91,0.0,0.65,2.99],[-2.41,-0.79,-0.07,0.65,2.49],[-2.29,-0.6,0.57,1.41,3.2],[-2.82,-0.72,0.17,0.76,2.92]];
const F_outliers = [[-3.42,-3.78,-4.25,-5.5],[3.39,-5.52],[],[4.64,3.58,-3.42,-3.54,-4.25,-5.52,-9.94]];
const F_violins = [
  [[-5.5,0.01],[-4.25,0.016],[-3.3,0.04],[-2.58,0.07],[-1.86,0.1],[-1.27,0.161],[-0.67,0.262],[-0.19,0.383],[0.17,0.427],[0.48,0.393],[1.0,0.302],[1.6,0.161],[2.44,0.05],[2.99,0.02]],
  [[-5.52,0.01],[-4.25,0.006],[-3.3,0.01],[-2.58,0.067],[-1.62,0.167],[-0.91,0.31],[-0.43,0.409],[0.05,0.393],[0.76,0.329],[1.36,0.188],[1.96,0.067],[2.68,0.03],[3.39,0.01]],
  [[-2.29,0.089],[-1.62,0.142],[-0.91,0.187],[-0.31,0.24],[0.29,0.329],[0.72,0.365],[1.12,0.329],[1.72,0.24],[2.44,0.151],[3.2,0.071]],
  [[-9.94,0.016],[-9.63,0.021],[-8.79,0.004],[-6.4,0.004],[-4.73,0.016],[-3.54,0.025],[-2.34,0.06],[-1.39,0.105],[-0.55,0.221],[0.05,0.381],[0.48,0.452],[0.88,0.363],[1.48,0.185],[2.08,0.087],[2.92,0.043],[3.87,0.018],[4.64,0.016]]
];
const F_brackets = [[1,4,17,'NS.'],[1,3,16,'***'],[1,2,15,'NS.']];

// ================= STYLE / LAYOUT =================
const FONT = "'Liberation Sans', Arial, Helvetica, sans-serif";
const TICKC = '#4D4D4D';
const OUTLINE = '#2B2B2B';
const PINK = '#FC5C7D', GREEN = '#55F511', BLUE = '#62A6F7';
const A_colors = [PINK,'#B88F0A','#5BE600','#4BF96B','#4DDFEA','#8888FF','#CC55EE'];
const B_colors = [BLUE, GREEN, '#FF3D17'];
const C_colors = [BLUE, GREEN, PINK];
const D_colors = [PINK,'#DC7014','#B88F0A','#8BB50A','#5BE600','#3DF23D','#4BF96B','#4DF7A6','#4DDFEA','#4DB6F2','#8888FF','#A56AF5','#CC55EE','#FF44E3','#FF4CD2'];
const E_colors = [PINK, GREEN, BLUE];
const F_colors = [PINK,'#74CC00','#4DF7A6','#9B7BF7'];
const DOT = 19;

const option = {animation:false, backgroundColor:'#ffffff', grid:[], xAxis:[], yAxis:[], series:[], graphic:[]};

// horizontal jitter (layout only, width +/-0.15 category units), deterministic hash
function jit(i, k){
  const h = Math.sin((i + 1) * 78.233 + (k + 1) * 12.9898) * 43758.5453;
  return ((h - Math.floor(h)) - 0.5) * 0.30;
}

function smoothPath(pts){
  let d = '';
  for (let i = 0; i < pts.length - 1; i++){
    const p0 = pts[Math.max(i-1,0)], p1 = pts[i], p2 = pts[i+1], p3 = pts[Math.min(i+2, pts.length-1)];
    const c1x = p1[0] + (p2[0]-p0[0])/6, c1y = p1[1] + (p2[1]-p0[1])/6;
    const c2x = p2[0] - (p3[0]-p1[0])/6, c2y = p2[1] - (p3[1]-p1[1])/6;
    d += ' C' + c1x + ',' + c1y + ' ' + c2x + ',' + c2y + ' ' + p2[0] + ',' + p2[1];
  }
  return d;
}

function addPanel(L, P){
  const gi = option.grid.length;
  option.grid.push({left:L.left, top:L.top, width:L.width, height:L.height, containLabel:false, outerBoundsMode:'none'});
  const ticks = P.cats.map((c,k)=>k+1);
  const rich = {};
  P.cats.forEach((c,k)=>{
    const s = L.shift[k] || 0;
    rich['l'+k] = {fontSize:L.fs, fontFamily:FONT, color:TICKC, padding: s >= 0 ? [0,0,0,2*s] : [0,-2*s,0,0]};
  });
  option.xAxis.push({type:'value', gridIndex:gi, min:L.xmin, max:L.xmax,
    axisLine:{show:true, onZero:false, lineStyle:{color:'#000', width:3.5}},
    axisTick:{show:true, customValues:ticks, length:11, lineStyle:{color:'#333', width:3}},
    axisLabel:{show:true, customValues:ticks, margin:L.lm, fontSize:L.fs, fontFamily:FONT, color:TICKC,
      formatter: v => { const k = Math.round(v) - 1; return '{l' + k + '|' + P.cats[k] + '}'; }, rich: rich},
    splitLine:{show:false}});
  option.yAxis.push({type:'value', gridIndex:gi, min:L.ymin, max:L.ymax,
    axisLine:{show:true, onZero:false, lineStyle:{color:'#000', width:3.5}},
    axisTick:{show:true, customValues:P.yticks, length:11, lineStyle:{color:'#333', width:3}},
    axisLabel:{show:true, customValues:P.yticks, margin:26, fontSize:L.fs, fontFamily:FONT, color:TICKC,
      formatter: v => v < 0 ? '\u2212' + Math.abs(v) : String(v)},
    splitLine:{show:false}});
  const ax = {xAxisIndex:gi, yAxisIndex:gi};

  // half violins
  option.series.push(Object.assign({type:'custom', z:2, silent:true, clip:false,
    data: P.cats.map((c,k)=>[k+1.25, P.boxes[k][2]]),
    renderItem: function(params, api){
      const k = params.dataIndex;
      const prof = P.violins[k];
      if (!prof || prof.length < 2) return null;
      const base = k + 1 + 0.25;
      const sorted = prof.slice().sort((a,b)=>a[0]-b[0]);
      const pts = sorted.map(p => api.coord([base + p[1], p[0]]));
      const b0 = api.coord([base, sorted[0][0]]);
      const b1 = api.coord([base, sorted[sorted.length-1][0]]);
      const d = 'M' + b0[0] + ',' + b0[1] + ' L' + pts[0][0] + ',' + pts[0][1] + smoothPath(pts) + ' L' + b1[0] + ',' + b1[1] + ' Z';
      return {type:'path', shape:{pathData:d}, style:{fill:P.colors[k], stroke:OUTLINE, lineWidth:3.5, lineJoin:'round'}};
    }}, ax));

  // jittered raw points
  P.cats.forEach((c,k)=>{
    option.series.push(Object.assign({type:'scatter', z:3, silent:true, symbol:'circle', symbolSize:DOT,
      itemStyle:{color:P.colors[k], opacity:1},
      data: P.points[k].map((v,j)=>[k+1+jit(j,k), v])}, ax));
  });

  // boxplots
  option.series.push(Object.assign({type:'custom', z:4, silent:true, clip:false,
    data: P.cats.map((c,k)=>[k+1.25, P.boxes[k][2]]),
    renderItem: function(params, api){
      const k = params.dataIndex;
      const b = P.boxes[k];
      const cx = k + 1.25, hw = 0.05;
      const pLo = api.coord([cx,b[0]]), pQ1 = api.coord([cx,b[1]]), pMd = api.coord([cx,b[2]]), pQ3 = api.coord([cx,b[3]]), pHi = api.coord([cx,b[4]]);
      const xl = api.coord([cx-hw,b[2]])[0], xr = api.coord([cx+hw,b[2]])[0];
      const st = {stroke:OUTLINE, lineWidth:3.5};
      return {type:'group', children:[
        {type:'line', shape:{x1:pLo[0],y1:pLo[1],x2:pQ1[0],y2:pQ1[1]}, style:st},
        {type:'line', shape:{x1:pQ3[0],y1:pQ3[1],x2:pHi[0],y2:pHi[1]}, style:st},
        {type:'rect', shape:{x:xl, y:pQ3[1], width:xr-xl, height:Math.max(pQ1[1]-pQ3[1],0)}, style:{fill:'#ffffff', stroke:OUTLINE, lineWidth:3.5}},
        {type:'line', shape:{x1:xl,y1:pMd[1],x2:xr,y2:pMd[1]}, style:st}
      ]};
    }}, ax));

  // outliers
  const od = [];
  P.outliers.forEach((arr,k)=>arr.forEach(v=>od.push([k+1.25, v])));
  option.series.push(Object.assign({type:'scatter', z:5, silent:true, symbol:'circle', symbolSize:18,
    itemStyle:{color:'#222222', opacity:1}, data: od}, ax));

  // significance brackets
  if (P.brackets.length){
    option.series.push(Object.assign({type:'custom', z:6, silent:true, clip:false,
      data: P.brackets.map(b=>[(b[0]+b[1])/2, b[2]]),
      renderItem: function(params, api){
        const b = P.brackets[params.dataIndex];
        const a1 = api.coord([b[0], b[2]-L.drop]), a2 = api.coord([b[0], b[2]]), a3 = api.coord([b[1], b[2]]), a4 = api.coord([b[1], b[2]-L.drop]);
        const m = api.coord([(b[0]+b[1])/2, b[2]]);
        const isStar = b[3].indexOf('*') >= 0;
        return {type:'group', children:[
          {type:'polyline', shape:{points:[a1,a2,a3,a4]}, style:{stroke:'#000', fill:null, lineWidth:3.2}},
          {type:'text', style:{text:b[3], x:m[0], y:m[1] + (isStar ? 4 : -2), align:'center', verticalAlign:'bottom', fontSize: isStar ? 46 : 48, fontFamily:FONT, fill:'#000'}}
        ]};
      }}, ax));
  }
}

addPanel({left:217, top:31, width:1975, height:860, xmin:0.395, xmax:7.688, ymin:-0.27, ymax:5.73, fs:49, lm:15, shift:[8,8,8,8,8,8,8], drop:0},
  {cats:A_categories, yticks:A_yticks, colors:A_colors, points:A_points, boxes:A_boxes, outliers:A_outliers, violins:A_violins, brackets:A_brackets});
addPanel({left:2492, top:67, width:1139, height:824, xmin:0.404, xmax:3.698, ymin:-11.08, ymax:13.04, fs:50, lm:15, shift:[50,43,28], drop:0.5},
  {cats:B_categories, yticks:B_yticks, colors:B_colors, points:B_points, boxes:B_boxes, outliers:B_outliers, violins:B_violins, brackets:B_brackets});
addPanel({left:226.5, top:1196, width:1189, height:848, xmin:0.399, xmax:3.693, ymin:-0.335, ymax:7.33, fs:49, lm:-6, shift:[16,24,14], drop:0.1},
  {cats:C_categories, yticks:C_yticks, colors:C_colors, points:C_points, boxes:C_boxes, outliers:C_outliers, violins:C_violins, brackets:C_brackets});
addPanel({left:1724.6, top:1207.6, width:2195, height:830, xmin:0.41, xmax:15.57, ymin:-12.09, ymax:7.96, fs:48, lm:12, shift:[5,13,15,21,5,8,0,26,8,23,18,13,15,21,18], drop:0},
  {cats:D_categories, yticks:D_yticks, colors:D_colors, points:D_points, boxes:D_boxes, outliers:D_outliers, violins:D_violins, brackets:D_brackets});
addPanel({left:212.8, top:2350, width:1254, height:939, xmin:0.40, xmax:3.697, ymin:-12.41, ymax:14.12, fs:49, lm:7, shift:[45,57,61], drop:0.56},
  {cats:E_categories, yticks:E_yticks, colors:E_colors, points:E_points, boxes:E_boxes, outliers:E_outliers, violins:E_violins, brackets:E_brackets});
addPanel({left:1710, top:2433, width:1901, height:868, xmin:0.40, xmax:4.695, ymin:-11.3, ymax:18.25, fs:50, lm:25, shift:[-162,95,218,187], drop:0.43},
  {cats:F_categories, yticks:F_yticks, colors:F_colors, points:F_points, boxes:F_boxes, outliers:F_outliers, violins:F_violins, brackets:F_brackets});

// ================= TEXT / LEGENDS (graphic) =================
const G = option.graphic;
function txt(x, y, text, o){
  o = o || {};
  G.push({type:'text', x:x, y:y, z: o.z || 10, rotation: o.rot || 0, silent:true,
    style:{text:text, fontSize:o.fs || 50, fontFamily:FONT, fill:o.color || '#000', align:o.align || 'left', verticalAlign:'middle'}});
}
function key(x, y, w, h, color){
  G.push({type:'rect', z:11, silent:true, shape:{x:x, y:y, width:w, height:h}, style:{fill:color, stroke:'#333333', lineWidth:4}});
}
// panel letters
[['A',11,52],['B',2293,76],['C',5,1208],['D',1495,1210],['E',7,2412],['F',1486,2414]].forEach(a=>txt(a[1], a[2], a[0], {fs:95}));
// y-axis titles
[[128,417],[2365,417],[150,1569],[1591,1562],[87,2761],[1593,2802]].forEach(p=>txt(p[0], p[1], 'APOBEC3B', {align:'center', rot:Math.PI/2}));
// x-axis titles
txt(1235, 968, 'structure', {align:'center'});
txt(3089, 966, 'group', {align:'center'});
txt(845, 2100, 'group', {align:'center'});
txt(2851, 2111, 'Histology', {align:'center'});
txt(885, 3364, 'PRS_type', {align:'center'});
txt(2775, 3432, 'treatment_outcome_first_course', {align:'center'});

// Legend A
txt(676, 1067, 'structure');
const A_legCols = [896,1087,1245,1445], A_legText = [975,1165,1322,1526], A_legRows = [1023,1075];
A_categories.forEach((c,k)=>{
  const col = Math.floor(k/2), row = k%2;
  key(A_legCols[col], A_legRows[row], 56, 46, A_colors[k]);
  txt(A_legText[col], A_legRows[row]+23, c);
});
// Legend B
txt(3672, 405, 'group');
B_categories.forEach((c,k)=>{
  key(3675, 438 + k*40, 37, 40, B_colors[k]);
  txt(3728, 450 + k*41, c);
});
// Legend C (order CE, NCE, NT)
txt(601, 2190, 'group');
const C_legOrder = [2,1,0], C_legKeys = [697,814,947], C_legText = [760,876,1010];
C_legOrder.forEach((k,i)=>{
  key(C_legKeys[i], 2169, 44, 45, C_colors[k]);
  txt(C_legText[i], 2190, C_categories[k]);
});
// Legend D (14 entries, 3 rows)
txt(2171, 2218, 'Histology');
const D_legCols = [2399,2557,2758,2975,3200], D_legText = [2470,2629,2832,3046,3271], D_legRows = [2158,2202,2246];
D_categories.slice(0,14).forEach((c,k)=>{
  const col = Math.floor(k/3), row = k%3;
  key(D_legCols[col], D_legRows[row], 52, 42, D_colors[k]);
  txt(D_legText[col], D_legRows[row]+20, c);
});
// Legend E
txt(201, 3434, 'PRS_type');
const E_legKeys = [441,702,987], E_legText = [500,759,1046];
E_categories.forEach((c,k)=>{
  key(E_legKeys[k], 3421, 40, 42, E_colors[k]);
  txt(E_legText[k], 3436, c);
});
// Legend F
const F_legKeys = [1488,2297,3054,3623], F_legText = [1578,2384,3138,3700];
F_categories.forEach((c,k)=>{
  key(F_legKeys[k], 3484, 66, 40, F_colors[k]);
  txt(F_legText[k], 3500, c);
});

const chart = echarts.init(document.getElementById('c'), null, {renderer:'canvas'});
chart.setOption(option);
</script>
</body></html>
